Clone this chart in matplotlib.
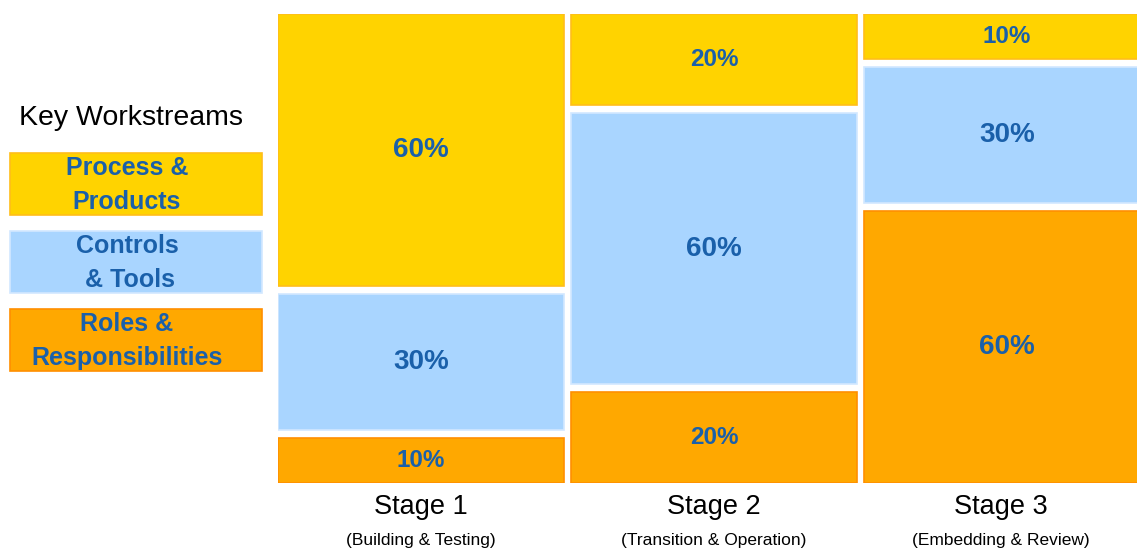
import matplotlib.pyplot as plt
from matplotlib.patches import Rectangle

plt.rcParams['font.family'] = ['Liberation Sans', 'DejaVu Sans']

stages = ["Stage 1", "Stage 2", "Stage 3"]
subtitles = ["(Building & Testing)", "(Transition & Operation)", "(Embedding & Review)"]
workstreams = ["Roles &\nResponsibilities", "Controls\n & Tools", "Process &\nProducts"]
# bottom -> top
roles = [10, 20, 60]
controls = [30, 60, 30]
process = [60, 20, 10]

face = ["#FFA800", "#A9D5FF", "#FFD300"]
edge = ["#FF8F00", "#D2E8FF", "#FFBE1A"]
txt_col = "#1A60AA"

fig = plt.figure(figsize=(11.37, 5.51), dpi=100)
W, H = 1137, 551

ax = fig.add_axes([278 / W, (H - 483) / H, (1137 - 278) / W, (483 - 14) / H])
gap = 1.75
w = 286 / 293
xmax = (1137 - 278) / 293 - w / 2
ax.set_xlim(-w / 2, xmax)
ax.set_ylim(0, 100 + 2 * gap)
ax.axis("off")

series = [roles, controls, process]
for i in range(len(stages)):
    bottom = 0
    for k, vals in enumerate(series):
        v = vals[i]
        ax.bar(i, v, width=w, bottom=bottom, color=face[k], edgecolor=edge[k],
               linewidth=1.2)
        size = 20 if v >= 30 else 17.5
        ax.text(i, bottom + v / 2, f"{v}%", ha="center", va="center",
                fontsize=size, fontweight="bold", color=txt_col)
        bottom += v + gap

    cx = (i - w / 2 + min(i + w / 2, xmax)) / 2
    ax.text(cx, -5.3, stages[i], ha="center", va="center", fontsize=19.5,
            clip_on=False)
    ax.text(cx, -12.6, subtitles[i], ha="center", va="center", fontsize=12.5,
            clip_on=False)

# legend panel
lax = fig.add_axes([0, 0, 1, 1])
lax.set_xlim(0, W)
lax.set_ylim(H, 0)
lax.axis("off")
lax.text(131, 118, "Key Workstreams", ha="center", va="center", fontsize=20.5)
box_tops = [309, 231, 153]
for k, name in enumerate(workstreams):
    lax.add_patch(Rectangle((10, box_tops[k]), 252, 62, facecolor=face[k],
                            edgecolor=edge[k], linewidth=1.2))
    lax.text(127, box_tops[k] + 32, name, ha="center", va="center",
             fontsize=18, fontweight="bold", color=txt_col, linespacing=1.55,
             multialignment="center")

fig.savefig("out.png", dpi=100)
